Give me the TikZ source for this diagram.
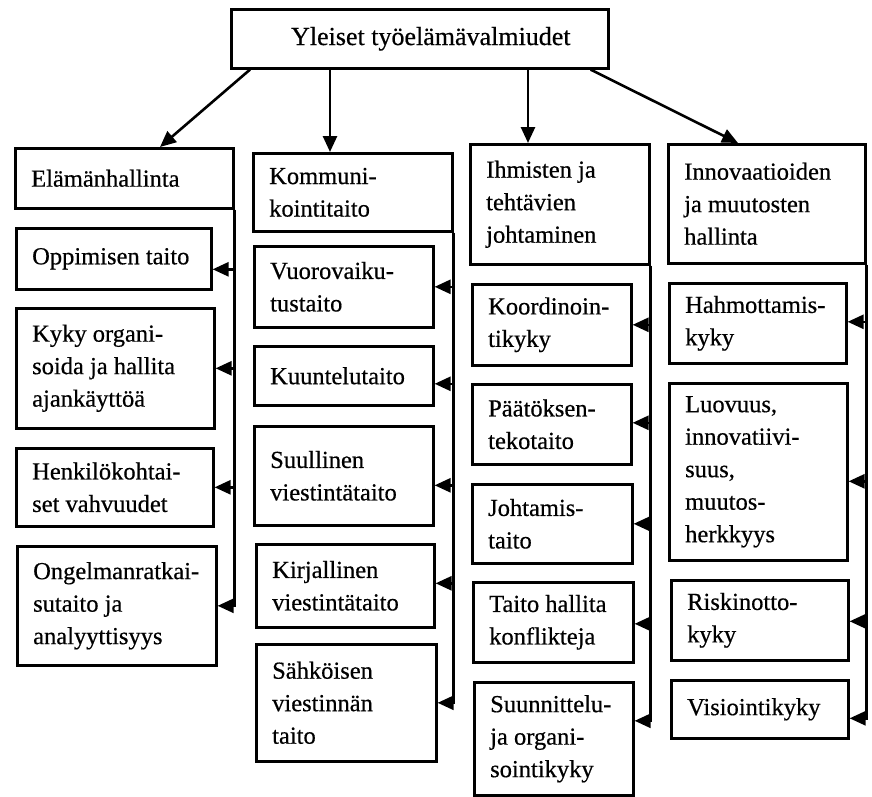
\documentclass[tikz,border=0pt]{standalone}
\usepackage{fontspec}
\setmainfont{Liberation Serif}[FakeBold=0.5]
\usetikzlibrary{arrows.meta}
\tikzset{
  box/.style={draw=black, line width=2.6pt, rectangle, inner sep=0pt},
  lbl/.style={inner sep=0pt, align=left, font=\fontsize{24.5}{32.5}\selectfont},
  arr/.style={draw=black, line width=2.6pt, -{Triangle[length=16pt,width=14pt]}},
  busline/.style={draw=black, line width=2.6pt}
}
\newcommand\bx[6]{%
  \node[box, minimum width=#4pt, minimum height=#5pt, anchor=north west] (#1) at (#2,#3) {};
  \node[lbl, anchor=west] (#1t) at ([xshift=17pt]#1.west) {#6};}
\begin{document}
\begin{tikzpicture}[x=1pt,y=-1pt]
\fill[white] (0,0) rectangle (872,796);
\useasboundingbox (0,0) rectangle (872,796);

% top box
\node[box, minimum width=377pt, minimum height=59pt, anchor=north west] (top) at (230,8) {};
\node[lbl, font=\fontsize{26}{32}\selectfont] (topt) at ([xshift=11pt]top.center) {Yleiset työelämävalmiudet};

% column 1
\bx{c1}{14}{147}{218}{60}{Elämänhallinta}
\bx{opp}{15}{227}{195}{61}{Oppimisen taito}
\bx{kyky}{15}{307}{198}{120}{Kyky organi-\\soida ja hallita\\ajankäyttöä}
\bx{henk}{15}{447}{197}{78}{Henkilökohtai-\\set vahvuudet}
\bx{ong}{16}{545}{199}{119}{Ongelmanratkai-\\sutaito ja\\analyyttisyys}

% column 2
\bx{c2}{252}{152}{199}{78}{Kommuni-\\kointitaito}
\bx{vuo}{253}{245}{179}{81}{Vuorovaiku-\\tustaito}
\bx{kuu}{253}{345}{179}{59}{Kuuntelutaito}
\bx{suu}{253}{425}{179}{99}{Suullinen\\viestintätaito}
\bx{kir}{255}{543}{178}{83}{Kirjallinen\\viestintätaito}
\bx{sah}{255}{643}{180}{117}{Sähköisen\\viestinnän\\taito}

% column 3
\bx{c3}{469}{143}{179}{120}{Ihmisten ja\\tehtävien\\johtaminen}
\bx{koo}{471}{283}{159}{81}{Koordinoin-\\tikyky}
\bx{paa}{471}{383}{159}{80}{Päätöksen-\\tekotaito}
\bx{joh}{471}{483}{160}{79}{Johtamis-\\taito}
\bx{tai}{472}{581}{160}{80}{Taito hallita\\konflikteja}
\bx{suun}{473}{681}{159}{113}{Suunnittelu-\\ja organi-\\sointikyky}

% column 4
\bx{c4}{667}{143}{197}{119}{Innovaatioiden\\ja muutosten\\hallinta}
\bx{hah}{668}{282}{177}{80}{Hahmottamis-\\kyky}
\bx{luo}{668}{382}{178}{177}{Luovuus,\\innovatiivi-\\suus,\\muutos-\\herkkyys}
\bx{ris}{670}{579}{177}{80}{Riskinotto-\\kyky}
\bx{vis}{670}{679}{177}{58}{Visiointikyky}

% top arrows
\draw[arr] ([xshift=20pt]top.south west) -- ([xshift=146pt]c1.north west);
\draw[arr] ([xshift=100pt]top.south west) -- ([xshift=100pt]top.south west |- c2.north);
\draw[arr] ([xshift=298pt]top.south west) -- ([xshift=298pt]top.south west |- c3.north);
\draw[arr] ([xshift=-19pt]top.south east) -- ([xshift=71pt]c4.north west);

% arrow anchor points on child boxes
\coordinate (opp-a) at ([yshift=-10.5pt]opp.east);
\coordinate (kyky-a) at (kyky.east);
\coordinate (henk-a) at (henk.east);
\coordinate (ong-a) at (ong.east);
\coordinate (vuo-a) at (vuo.east);
\coordinate (kuu-a) at ([yshift=-8pt]kuu.east);
\coordinate (suu-a) at ([yshift=-9.5pt]suu.east);
\coordinate (kir-a) at ([yshift=2.5pt]kir.east);
\coordinate (sah-a) at (sah.east);
\coordinate (koo-a) at (koo.east);
\coordinate (paa-a) at ([yshift=1.5pt]paa.east);
\coordinate (joh-a) at (joh.east);
\coordinate (tai-a) at ([yshift=-1.5pt]tai.east);
\coordinate (suun-a) at ([yshift=18pt]suun.east);
\coordinate (hah-a) at ([yshift=1.5pt]hah.east);
\coordinate (luo-a) at ([yshift=-9.5pt]luo.east);
\coordinate (ris-a) at ([yshift=-1pt]ris.east);
\coordinate (vis-a) at ([yshift=-9pt]vis.east);

% column 1 bus
\draw[arr] (c1.south east) |- (ong-a);
\foreach \n in {opp,kyky,henk} \draw[arr] (c1.south east |- \n-a) -- (\n-a);
% column 2 bus
\draw[arr] (c2.south east) |- (sah-a);
\foreach \n in {vuo,kuu,suu,kir} \draw[arr] (c2.south east |- \n-a) -- (\n-a);
% column 3 bus
\draw[arr] (c3.south east) |- (suun-a);
\foreach \n in {koo,paa,joh,tai} \draw[arr] (c3.south east |- \n-a) -- (\n-a);
% column 4 bus
\draw[arr] (c4.south east) |- (vis-a);
\foreach \n in {hah,luo,ris} \draw[arr] (c4.south east |- \n-a) -- (\n-a);
\end{tikzpicture}
\end{document}
